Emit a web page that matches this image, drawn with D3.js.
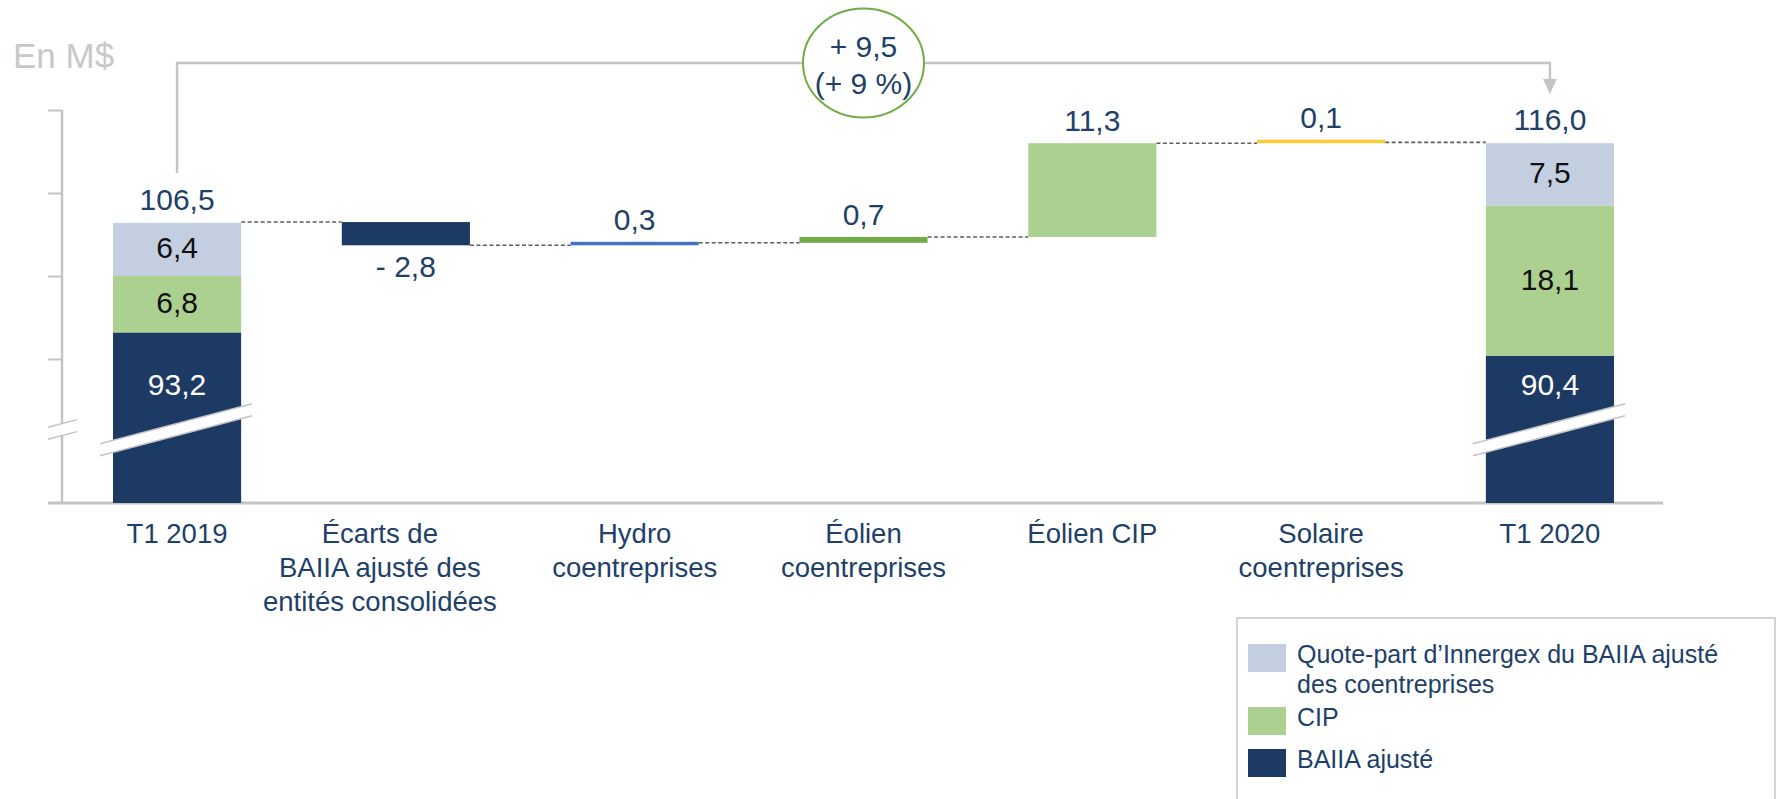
<!DOCTYPE html>
<html>
<head>
<meta charset="utf-8">
<script src="https://cdn.jsdelivr.net/npm/d3@7"></script>
<style>
  body { margin: 0; background: #fff; }
  svg { display: block; font-family: "Liberation Sans", Arial, sans-serif; }
</style>
</head>
<body>
<svg id="chart" width="1779" height="799"></svg>
<script>
// ---- data ----
const categories = [
  "T1 2019",
  "Écarts de\nBAIIA ajusté des\nentités consolidées",
  "Hydro\ncoentreprises",
  "Éolien\ncoentreprises",
  "Éolien CIP",
  "Solaire\ncoentreprises",
  "T1 2020"
];
const seriesNames = ["BAIIA ajusté", "CIP", "Quote-part d’Innergex du BAIIA ajusté\ndes coentreprises"];
const start2019 = [93.2, 6.8, 6.4];
const end2020 = [90.4, 18.1, 7.5];
const totals = [106.5, 116.0];
const deltas = [-2.8, 0.3, 0.7, 11.3, 0.1];
const change = 9.5;
const changePct = 9;
const tickValues = [90, 100, 110, 120];

// ---- styles ----
const navy = "#1c3a64";
const textNavy = "#213f69";
const seriesColors = [navy, "#acd08f", "#c3cfe1"];
const deltaColors = [navy, "#4472c4", "#70ad47", "#acd08f", "#fbc934"];
const grey = "#c4c4c4";

const svg = d3.select("#chart");
const plotBottom = 503;
const breakValue = 81.5;

const fr = d3.formatLocale({ decimal: ",", thousands: " ", grouping: [3], currency: ["", " $"], minus: "- " });
const fmt = fr.format(".1f");

const x = d3.scaleBand()
  .domain(categories)
  .range([113, 1614])
  .paddingInner(0.44)
  .paddingOuter(0);
const bw = x.bandwidth();
const cx = (c) => x(c) + bw / 2;

const y = d3.scaleLinear()
  .domain([90, 120])
  .range([359, 110]);

// "En M$"
svg.append('text')
  .attr('x', 13).attr('y', 68)
  .attr('font-size', 35)
  .attr('fill', '#c8c8c8')
  .text('En M$');

// axis
const axisG = svg.append('g')
  .attr('transform', 'translate(62,0)')
  .call(d3.axisLeft(y).tickValues(tickValues).tickFormat('').tickSize(14));
axisG.select('.domain').remove();
axisG.selectAll('.tick line').attr('stroke', grey).attr('stroke-width', 2);
svg.append('line')
  .attr('x1', 62).attr('x2', 62)
  .attr('y1', y(120)).attr('y2', plotBottom)
  .attr('stroke', grey).attr('stroke-width', 2.5);
svg.append('line')
  .attr('x1', 48).attr('x2', 1663)
  .attr('y1', plotBottom).attr('y2', plotBottom)
  .attr('stroke', grey).attr('stroke-width', 3);

// stacked total bars
const stacks = [
  { cat: categories[0], values: start2019, total: totals[0] },
  { cat: categories[6], values: end2020, total: totals[1] }
];
stacks.forEach((s) => {
  let acc = 0;
  s.values.forEach((v, i) => {
    const lo = acc;
    const hi = acc + v;
    acc = hi;
    const yTop = y(hi);
    const yBot = i === 0 ? plotBottom : y(lo);
    svg.append('rect')
      .attr('x', x(s.cat)).attr('y', yTop)
      .attr('width', bw).attr('height', yBot - yTop)
      .attr('fill', seriesColors[i]);
    const ly = i === 0 ? y(breakValue) - 35 : (yTop + yBot) / 2 + 9;
    svg.append('text')
      .attr('x', cx(s.cat)).attr('y', ly)
      .attr('text-anchor', 'middle')
      .attr('font-size', 30)
      .attr('fill', i === 0 ? '#fff' : '#111')
      .text(fmt(v));
  });
  svg.append('text')
    .attr('x', cx(s.cat)).attr('y', y(acc) - 13)
    .attr('text-anchor', 'middle')
    .attr('font-size', 30)
    .attr('fill', textNavy)
    .text(fmt(s.total));
});

// waterfall steps
let level = totals[0];
const steps = deltas.map((d, i) => {
  const s = { cat: categories[i + 1], start: level, end: level + d, value: d, color: deltaColors[i] };
  level += d;
  return s;
});

// dashed connectors
const connectors = [];
connectors.push({ x1: x(categories[0]) + bw, x2: x(steps[0].cat), v: totals[0] });
steps.forEach((s, i) => {
  const next = i < steps.length - 1 ? steps[i + 1].cat : categories[6];
  connectors.push({ x1: x(s.cat) + bw, x2: x(next), v: s.end });
});
svg.selectAll('line.conn')
  .data(connectors)
  .enter()
    .append('line')
    .attr('class', 'conn')
    .attr('x1', (d) => d.x1).attr('x2', (d) => d.x2)
    .attr('y1', (d) => y(d.v)).attr('y2', (d) => y(d.v))
    .attr('stroke', '#5e5e5e')
    .attr('stroke-width', 1.6)
    .attr('stroke-dasharray', '4,2.5');

steps.forEach((s) => {
  const yHi = y(Math.max(s.start, s.end));
  const yLo = y(Math.min(s.start, s.end));
  const h = Math.max(yLo - yHi, 3.5);
  svg.append('rect')
    .attr('x', x(s.cat)).attr('y', yLo - h)
    .attr('width', bw).attr('height', h)
    .attr('fill', s.color);
  svg.append('text')
    .attr('x', cx(s.cat))
    .attr('y', s.value < 0 ? yLo + 32 : yLo - h - 12)
    .attr('text-anchor', 'middle')
    .attr('font-size', 30)
    .attr('fill', textNavy)
    .text(fmt(s.value));
});

// break marks
const slope = 0.263;
function breakMark(xc, x0, x1) {
  const yc = y(breakValue);
  const yAt = (xx, off) => yc + off - slope * (xx - xc);
  svg.append('polygon')
    .attr('points', [[x0, yAt(x0, -6)], [x1, yAt(x1, -6)], [x1, yAt(x1, 6)], [x0, yAt(x0, 6)]].join(' '))
    .attr('fill', '#fff');
  [-6, 6].forEach((off) => {
    svg.append('line')
      .attr('x1', x0).attr('y1', yAt(x0, off))
      .attr('x2', x1).attr('y2', yAt(x1, off))
      .attr('stroke', grey).attr('stroke-width', 1.5);
  });
}
breakMark(62, 48, 77);
stacks.forEach((s) => breakMark(cx(s.cat), x(s.cat) - 13, x(s.cat) + bw + 11));

// category labels
const labelDx = { 1: -26 };
categories.forEach((c, i) => {
  const t = svg.append('text')
    .attr('text-anchor', 'middle')
    .attr('font-size', 27.5)
    .attr('fill', textNavy);
  c.split('\n').forEach((line, k) => {
    t.append('tspan')
      .attr('x', cx(c) + (labelDx[i] || 0))
      .attr('y', 543 + k * 34)
      .text(line);
  });
});

// change bracket with arrow
const bx0 = cx(categories[0]);
const bx1 = cx(categories[6]);
const bTop = 63;
svg.append('path')
  .attr('d', `M${bx0},${y(totals[0]) - 49}V${bTop}H${bx1}V${bTop + 17}`)
  .attr('fill', 'none')
  .attr('stroke', grey)
  .attr('stroke-width', 2.5);
svg.append('path')
  .attr('d', `M${bx1 - 7},${bTop + 16}L${bx1 + 7},${bTop + 16}L${bx1},${bTop + 31}Z`)
  .attr('fill', grey);

const ox = cx(categories[3]);
svg.append('ellipse')
  .attr('cx', ox).attr('cy', bTop)
  .attr('rx', 60.5).attr('ry', 54.5)
  .attr('fill', '#fff')
  .attr('stroke', '#70ad47')
  .attr('stroke-width', 2);
svg.append('text')
  .attr('x', ox).attr('y', 57)
  .attr('text-anchor', 'middle')
  .attr('font-size', 30)
  .attr('fill', textNavy)
  .text('+ ' + fmt(change));
svg.append('text')
  .attr('x', ox).attr('y', 94)
  .attr('text-anchor', 'middle')
  .attr('font-size', 30)
  .attr('fill', textNavy)
  .text('(+ ' + changePct + ' %)');

// legend
const legend = svg.append('g').attr('transform', 'translate(1237,618)');
legend.append('rect')
  .attr('x', 0).attr('y', 0)
  .attr('width', 538).attr('height', 220)
  .attr('fill', '#fff')
  .attr('stroke', '#d4d4d4')
  .attr('stroke-width', 2);
const legendItems = [2, 1, 0];
const legendRowY = [26, 89, 131];
legendItems.forEach((si, k) => {
  const ry = legendRowY[k];
  legend.append('rect')
    .attr('x', 11).attr('y', ry)
    .attr('width', 38).attr('height', 28)
    .attr('fill', seriesColors[si]);
  const t = legend.append('text')
    .attr('font-size', 25)
    .attr('fill', textNavy);
  seriesNames[si].split('\n').forEach((line, k2) => {
    t.append('tspan')
      .attr('x', 60)
      .attr('y', ry + 19 + k2 * 30)
      .text(line);
  });
});
</script>
</body>
</html>
